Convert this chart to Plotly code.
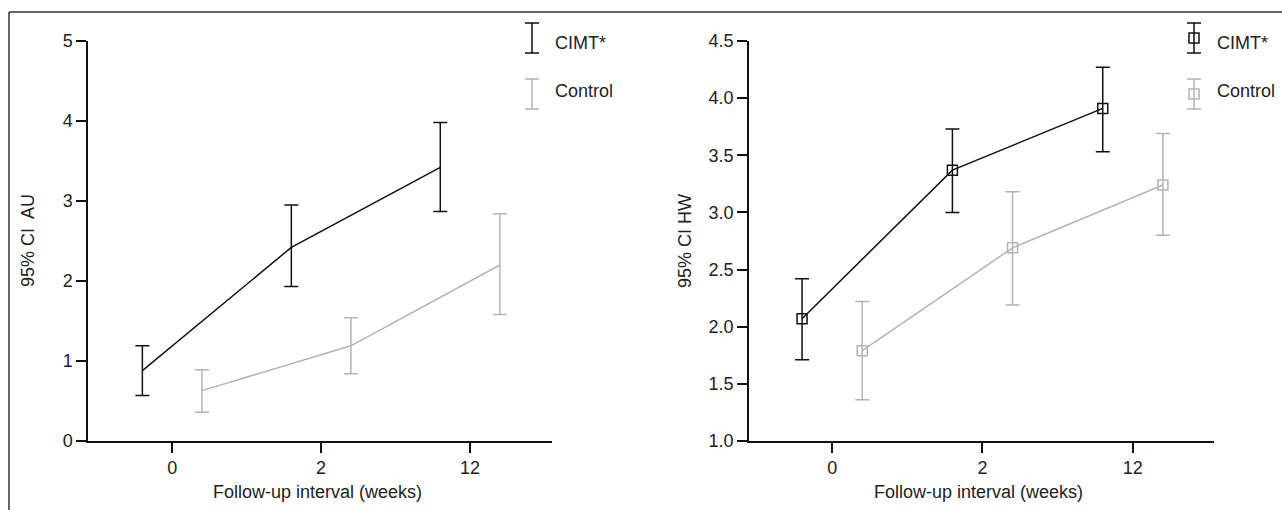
import plotly.graph_objects as go

# ---------------- data ----------------
categories = ["0", "2", "12"]

au_cimt = [0.88, 2.42, 3.42]
au_cimt_hi = [1.19, 2.95, 3.98]
au_cimt_lo = [0.57, 1.93, 2.87]
au_ctrl = [0.63, 1.19, 2.20]
au_ctrl_hi = [0.89, 1.54, 2.84]
au_ctrl_lo = [0.36, 0.84, 1.58]

hw_cimt = [2.07, 3.37, 3.91]
hw_cimt_hi = [2.42, 3.73, 4.27]
hw_cimt_lo = [1.71, 3.00, 3.53]
hw_ctrl = [1.79, 2.69, 3.24]
hw_ctrl_hi = [2.22, 3.18, 3.69]
hw_ctrl_lo = [1.36, 2.19, 2.80]

series_names = ["CIMT*", "Control"]
x_title = "Follow-up interval (weeks)"
y_titles = ["95% CI\u00a0 AU", "95% CI HW"]

# ---------------- style ----------------
BLACK = "#111111"
GREY = "#b4b4b4"
TXT = "#222222"
FONT = "Liberation Sans, Arial, sans-serif"
FS = 18
W, H = 1282, 510
OFF = 0.2  # horizontal dodge of the two groups (category units)

idx = list(range(len(categories)))
x_cimt = [i - OFF for i in idx]
x_ctrl = [i + OFF for i in idx]


def err(mean, hi, lo, col):
    return dict(type="data", symmetric=False,
                array=[h - m for h, m in zip(hi, mean)],
                arrayminus=[m - l for m, l in zip(mean, lo)],
                color=col, thickness=1.5, width=7)


fig = go.Figure()

# left panel (AU)
fig.add_trace(go.Scatter(x=x_cimt, y=au_cimt, mode="lines", line=dict(color=BLACK, width=1.5),
                         error_y=err(au_cimt, au_cimt_hi, au_cimt_lo, BLACK),
                         xaxis="x", yaxis="y", showlegend=False))
fig.add_trace(go.Scatter(x=x_ctrl, y=au_ctrl, mode="lines", line=dict(color=GREY, width=1.5),
                         error_y=err(au_ctrl, au_ctrl_hi, au_ctrl_lo, GREY),
                         xaxis="x", yaxis="y", showlegend=False))

# right panel (HW)
fig.add_trace(go.Scatter(x=x_cimt, y=hw_cimt, mode="lines+markers", line=dict(color=BLACK, width=1.5),
                         marker=dict(symbol="square-open", size=10, color=BLACK, line=dict(width=1.5)),
                         error_y=err(hw_cimt, hw_cimt_hi, hw_cimt_lo, BLACK),
                         xaxis="x2", yaxis="y2", showlegend=False))
fig.add_trace(go.Scatter(x=x_ctrl, y=hw_ctrl, mode="lines+markers", line=dict(color=GREY, width=1.5),
                         marker=dict(symbol="square-open", size=10, color=GREY, line=dict(width=1.5)),
                         error_y=err(hw_ctrl, hw_ctrl_hi, hw_ctrl_lo, GREY),
                         xaxis="x2", yaxis="y2", showlegend=False))

# ---------------- legends (pixel overlay axes) ----------------
legend_rows_y = [38, 94]
legend_text_y = [43, 91]
legend_sym_x = [532, 1194]
legend_txt_x = [553, 1215]
colors = [BLACK, GREY]
for panel, (sx, tx) in enumerate(zip(legend_sym_x, legend_txt_x)):
    for r, (name, col) in enumerate(zip(series_names, colors)):
        fig.add_trace(go.Scatter(
            x=[sx], y=[legend_rows_y[r]],
            mode="markers" if panel == 1 else "none",
            marker=dict(symbol="square-open", size=10, color=col, line=dict(width=1.5)),
            error_y=dict(type="constant", value=15, color=col, thickness=1.5, width=7),
            xaxis="x3", yaxis="y3", showlegend=False, hoverinfo="skip"))
        fig.add_annotation(x=tx, y=legend_text_y[r], xref="x3", yref="y3", text=name,
                           showarrow=False, xanchor="left", yanchor="middle",
                           font=dict(family=FONT, size=FS, color=TXT))

# ---------------- axes ----------------
plot_top, plot_bot = 41, 441
ydom = [(H - plot_bot) / H, (H - plot_top) / H]
xdoms = [[88 / W, 552 / W], [749 / W, 1214 / W]]

common_x = dict(tickmode="array", tickvals=idx, ticktext=categories,
                showline=True, linecolor=BLACK, linewidth=1.5, ticks="outside",
                ticklen=10, tickwidth=1.5, tickcolor=BLACK, showgrid=False, zeroline=False,
                automargin=False, tickfont=dict(family=FONT, size=FS, color=TXT))
common_y = dict(showline=True, linecolor=BLACK, linewidth=1.5, ticks="outside",
                ticklen=10, tickwidth=1.5, tickcolor=BLACK, showgrid=False, zeroline=False,
                automargin=False, tickfont=dict(family=FONT, size=FS, color=TXT))

fig.update_layout(
    width=W, height=H,
    margin=dict(l=0, r=0, t=0, b=0, autoexpand=False),
    paper_bgcolor="white", plot_bgcolor="rgba(0,0,0,0)",
    font=dict(family=FONT, size=FS, color=TXT),
    xaxis=dict(domain=xdoms[0], range=[-0.565, 2.55], anchor="y", **common_x),
    yaxis=dict(domain=ydom, range=[0, 5], dtick=1, anchor="x", **common_y),
    xaxis2=dict(domain=xdoms[1], range=[-0.553, 2.54], anchor="y2", **common_x),
    yaxis2=dict(domain=ydom, range=[1, 4.5], dtick=0.5, tickformat=".1f", anchor="x2", **common_y),
    xaxis3=dict(domain=[0, 1], range=[0, W], visible=False, fixedrange=True, anchor="y3", automargin=False),
    yaxis3=dict(domain=[0, 1], range=[H, 0], visible=False, fixedrange=True, anchor="x3", automargin=False),
    showlegend=False,
)

# axis titles as annotations (pixel overlay axes)
ytitle_x = [28, 685]
for dom, yt, ytx in zip(xdoms, y_titles, ytitle_x):
    fig.add_annotation(x=(dom[0] + dom[1]) / 2 * W - 3, y=492, xref="x3", yref="y3", text=x_title,
                       showarrow=False, xanchor="center", yanchor="middle",
                       font=dict(family=FONT, size=FS, color=TXT))
    fig.add_annotation(x=ytx, y=(plot_top + plot_bot) / 2, xref="x3", yref="y3", text=yt,
                       textangle=-90, showarrow=False, xanchor="center", yanchor="middle",
                       font=dict(family=FONT, size=FS, color=TXT))

# outer frame (top and left edges)
fig.add_shape(type="line", xref="paper", yref="paper", x0=9 / W, x1=1, y0=(H - 12) / H, y1=(H - 12) / H,
              line=dict(color="#333333", width=1.5))
fig.add_shape(type="line", xref="paper", yref="paper", x0=9 / W, x1=9 / W, y0=0, y1=(H - 12) / H,
              line=dict(color="#333333", width=1.5))

fig.write_html("out.html", config={"displayModeBar": False},
               post_script="document.body.style.margin='0';document.body.style.padding='0';")
